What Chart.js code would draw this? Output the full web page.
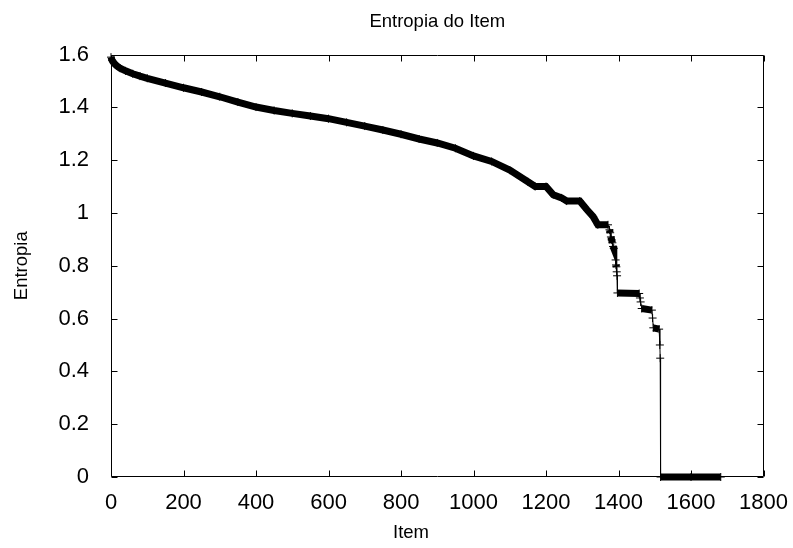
<!DOCTYPE html>
<html>
<head>
<meta charset="utf-8">
<script src="https://cdn.jsdelivr.net/npm/chart.js@4/dist/chart.umd.min.js"></script>
<style>
  body { margin: 0; background: #fff; }
</style>
</head>
<body>
<canvas id="grafico" width="793" height="548"></canvas>
<script>
// item index (x) and entropy (y)
const items = [0, 3, 8, 15, 25, 40, 60, 80, 100, 150, 200, 250, 300, 350, 400, 450, 500, 550, 600, 650,
  700, 750, 800, 850, 900, 950, 1000, 1050, 1100, 1150, 1170, 1200, 1220, 1243, 1257, 1293, 1313, 1330,
  1343, 1371, 1375, 1377, 1379, 1381, 1383, 1385, 1387, 1392, 1393, 1394, 1395, 1396, 1397, 1457, 1459,
  1461, 1464, 1492, 1494, 1496, 1512, 1514, 1515, 1516, 1600, 1682];
const entropia = [1.590, 1.578, 1.568, 1.558, 1.548, 1.538, 1.527, 1.518, 1.510, 1.492, 1.474, 1.458, 1.440, 1.420, 1.401, 1.388, 1.377, 1.367, 1.357, 1.343,
  1.329, 1.314, 1.298, 1.280, 1.265, 1.245, 1.216, 1.195, 1.162, 1.118, 1.100, 1.100, 1.069, 1.057, 1.045, 1.045, 1.012, 0.986,
  0.955, 0.955, 0.936, 0.925, 0.909, 0.898, 0.887, 0.873, 0.866, 0.822, 0.803, 0.796, 0.777, 0.762, 0.697, 0.695, 0.678,
  0.663, 0.638, 0.632, 0.602, 0.565, 0.560, 0.500, 0.450, 0, 0, 0];

const fonte = 'Liberation Sans, Arial, sans-serif';
Chart.defaults.color = '#000';
Chart.defaults.font.family = fonte;
Chart.defaults.font.size = 22;

// moldura com ticks para dentro (estilo gnuplot) + rótulo do eixo x
const moldura = {
  id: 'moldura',
  beforeDatasetsDraw(chart) {
    const { ctx, chartArea: a, scales: { x, y } } = chart;
    const l = Math.round(a.left) + 0.5, r = Math.round(a.right) - 0.5;
    const t = Math.round(a.top) + 0.5, b = Math.round(a.bottom) - 0.5;
    ctx.save();
    ctx.strokeStyle = '#000';
    ctx.lineWidth = 1;
    ctx.beginPath();
    ctx.rect(l, t, r - l, b - t);
    x.ticks.forEach(tk => {
      const px = Math.round(x.getPixelForValue(tk.value)) + 0.5;
      ctx.moveTo(px, b); ctx.lineTo(px, b - 6);
      ctx.moveTo(px, t); ctx.lineTo(px, t + 6);
    });
    y.ticks.forEach(tk => {
      const py = Math.round(y.getPixelForValue(tk.value)) + 0.5;
      ctx.moveTo(l, py); ctx.lineTo(l + 6, py);
      ctx.moveTo(r, py); ctx.lineTo(r - 6, py);
    });
    ctx.stroke();

    ctx.fillStyle = '#000';
    ctx.font = '18.5px ' + fonte;
    ctx.textAlign = 'center';
    ctx.textBaseline = 'middle';
    ctx.fillText('Item', 411, 533);
    ctx.restore();
  }
};

new Chart(document.getElementById('grafico'), {
  type: 'line',
  data: {
    datasets: [{
      data: items.map((x, i) => ({ x, y: entropia[i] })),
      borderColor: '#000',
      backgroundColor: '#000',
      borderWidth: 1,
      pointStyle: 'cross',
      pointRadius: 4,
      pointBorderWidth: 1,
      pointBorderColor: '#000',
      tension: 0,
      clip: 8,
      segment: {
        // trechos densos formam a faixa grossa; quedas verticais ficam finas
        borderWidth: ctx => {
          const dx = Math.abs(ctx.p1.x - ctx.p0.x);
          const dy = Math.abs(ctx.p1.y - ctx.p0.y);
          return dy > 2 * dx + 2 ? 1 : 7;
        }
      }
    }]
  },
  options: {
    responsive: false,
    animation: false,
    layout: { padding: { left: 0, right: 29, top: 0, bottom: 0 } },
    plugins: {
      legend: { display: false },
      tooltip: { enabled: false },
      title: {
        display: true,
        text: 'Entropia do Item',
        fullSize: false,
        font: { size: 18.5, weight: 'normal' },
        padding: { top: 10.9, bottom: 21.4 }
      }
    },
    scales: {
      x: {
        type: 'linear',
        min: 0,
        max: 1800,
        grid: { display: false },
        border: { display: false },
        ticks: { stepSize: 200, padding: 5, maxRotation: 0, callback: v => String(v) },
        afterFit: s => { s.height = 71; }
      },
      y: {
        min: 0,
        max: 1.6,
        grid: { display: false },
        border: { display: false },
        ticks: { stepSize: 0.2, padding: 14, callback: v => String(+v.toFixed(1)) },
        title: { display: true, text: 'Entropia', font: { size: 18.5 }, padding: { top: 10.9, bottom: 0 } },
        afterFit: s => { s.width = 111; }
      }
    }
  },
  plugins: [moldura]
});
</script>
</body>
</html>
